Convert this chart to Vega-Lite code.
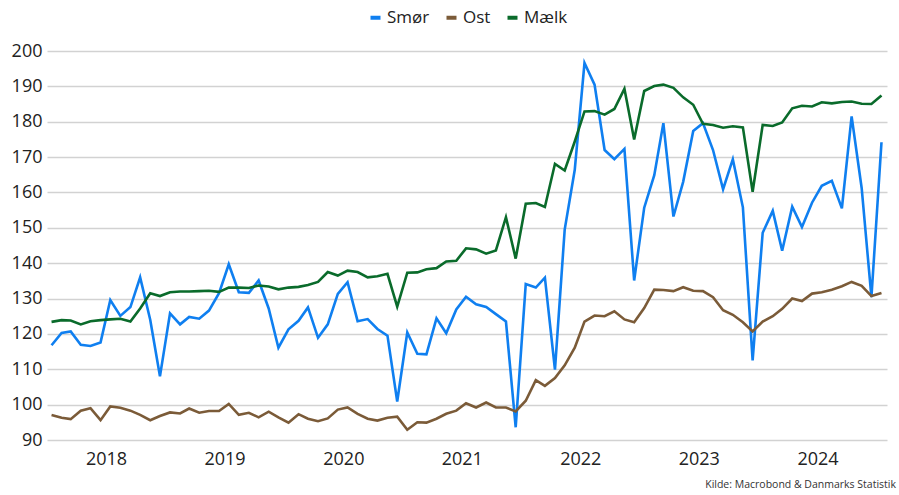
{
  "$schema": "https://vega.github.io/schema/vega-lite/v6.json",
  "width": 840,
  "height": 389,
  "autosize": {"type": "none"},
  "padding": {"left": 47, "top": 51, "right": 12, "bottom": 55},
  "background": "white",
  "config": {
    "view": {"stroke": null},
    "font": "Open Sans",
    "axis": {"labelFont": "Open Sans", "labelColor": "#222222"},
    "legend": {"labelFont": "Open Sans"}
  },
  "title": {
    "text": "Kilde: Macrobond & Danmarks Statistik",
    "orient": "bottom",
    "anchor": "end",
    "fontSize": 10.5,
    "fontWeight": "normal",
    "color": "#333333",
    "offset": 12,
    "dx": 9
  },
  "data": {
    "values": [
      {"d": "2018-01-15", "Smør": 116.8, "Ost": 97.1, "Mælk": 123.4},
      {"d": "2018-02-15", "Smør": 120.3, "Ost": 96.3, "Mælk": 123.9},
      {"d": "2018-03-15", "Smør": 120.7, "Ost": 95.9, "Mælk": 123.8},
      {"d": "2018-04-15", "Smør": 116.9, "Ost": 98.3, "Mælk": 122.7},
      {"d": "2018-05-15", "Smør": 116.6, "Ost": 99.0, "Mælk": 123.6},
      {"d": "2018-06-15", "Smør": 117.6, "Ost": 95.6, "Mælk": 123.9},
      {"d": "2018-07-15", "Smør": 129.6, "Ost": 99.5, "Mælk": 124.1},
      {"d": "2018-08-15", "Smør": 125.1, "Ost": 99.1, "Mælk": 124.3},
      {"d": "2018-09-15", "Smør": 127.6, "Ost": 98.3, "Mælk": 123.5},
      {"d": "2018-10-15", "Smør": 136.0, "Ost": 97.1, "Mælk": 127.2},
      {"d": "2018-11-15", "Smør": 124.0, "Ost": 95.6, "Mælk": 131.5},
      {"d": "2018-12-15", "Smør": 108.0, "Ost": 96.8, "Mælk": 130.7},
      {"d": "2019-01-15", "Smør": 125.8, "Ost": 97.8, "Mælk": 131.8},
      {"d": "2019-02-15", "Smør": 122.7, "Ost": 97.5, "Mælk": 132.0},
      {"d": "2019-03-15", "Smør": 124.8, "Ost": 98.9, "Mælk": 132.0},
      {"d": "2019-04-15", "Smør": 124.3, "Ost": 97.7, "Mælk": 132.1},
      {"d": "2019-05-15", "Smør": 126.6, "Ost": 98.2, "Mælk": 132.2},
      {"d": "2019-06-15", "Smør": 131.5, "Ost": 98.2, "Mælk": 131.9},
      {"d": "2019-07-15", "Smør": 139.7, "Ost": 100.2, "Mælk": 133.1},
      {"d": "2019-08-15", "Smør": 131.8, "Ost": 97.1, "Mælk": 133.1},
      {"d": "2019-09-15", "Smør": 131.6, "Ost": 97.7, "Mælk": 133.0},
      {"d": "2019-10-15", "Smør": 135.1, "Ost": 96.4, "Mælk": 133.7},
      {"d": "2019-11-15", "Smør": 127.2, "Ost": 98.0, "Mælk": 133.4},
      {"d": "2019-12-15", "Smør": 116.1, "Ost": 96.4, "Mælk": 132.6},
      {"d": "2020-01-15", "Smør": 121.3, "Ost": 94.9, "Mælk": 133.1},
      {"d": "2020-02-15", "Smør": 123.7, "Ost": 97.3, "Mælk": 133.3},
      {"d": "2020-03-15", "Smør": 127.5, "Ost": 96.0, "Mælk": 133.8},
      {"d": "2020-04-15", "Smør": 118.9, "Ost": 95.3, "Mælk": 134.7},
      {"d": "2020-05-15", "Smør": 122.7, "Ost": 96.1, "Mælk": 137.5},
      {"d": "2020-06-15", "Smør": 131.3, "Ost": 98.6, "Mælk": 136.5},
      {"d": "2020-07-15", "Smør": 134.6, "Ost": 99.2, "Mælk": 137.9},
      {"d": "2020-08-15", "Smør": 123.6, "Ost": 97.4, "Mælk": 137.5},
      {"d": "2020-09-15", "Smør": 124.2, "Ost": 96.0, "Mælk": 136.0},
      {"d": "2020-10-15", "Smør": 121.4, "Ost": 95.5, "Mælk": 136.3},
      {"d": "2020-11-15", "Smør": 119.5, "Ost": 96.3, "Mælk": 137.0},
      {"d": "2020-12-15", "Smør": 100.9, "Ost": 96.6, "Mælk": 127.7},
      {"d": "2021-01-15", "Smør": 120.4, "Ost": 92.9, "Mælk": 137.3},
      {"d": "2021-02-15", "Smør": 114.4, "Ost": 95.0, "Mælk": 137.4},
      {"d": "2021-03-15", "Smør": 114.2, "Ost": 94.9, "Mælk": 138.3},
      {"d": "2021-04-15", "Smør": 124.4, "Ost": 96.0, "Mælk": 138.6},
      {"d": "2021-05-15", "Smør": 120.2, "Ost": 97.4, "Mælk": 140.5},
      {"d": "2021-06-15", "Smør": 126.9, "Ost": 98.3, "Mælk": 140.7},
      {"d": "2021-07-15", "Smør": 130.5, "Ost": 100.4, "Mælk": 144.2},
      {"d": "2021-08-15", "Smør": 128.4, "Ost": 99.2, "Mælk": 143.9},
      {"d": "2021-09-15", "Smør": 127.6, "Ost": 100.6, "Mælk": 142.7},
      {"d": "2021-10-15", "Smør": 125.6, "Ost": 99.2, "Mælk": 143.6},
      {"d": "2021-11-15", "Smør": 123.5, "Ost": 99.2, "Mælk": 153.0},
      {"d": "2021-12-15", "Smør": 93.6, "Ost": 98.1, "Mælk": 141.3},
      {"d": "2022-01-15", "Smør": 134.1, "Ost": 101.1, "Mælk": 156.8},
      {"d": "2022-02-15", "Smør": 133.1, "Ost": 106.9, "Mælk": 157.0},
      {"d": "2022-03-15", "Smør": 135.9, "Ost": 105.3, "Mælk": 155.9},
      {"d": "2022-04-15", "Smør": 109.9, "Ost": 107.5, "Mælk": 168.1},
      {"d": "2022-05-15", "Smør": 149.5, "Ost": 111.1, "Mælk": 166.2},
      {"d": "2022-06-15", "Smør": 166.4, "Ost": 116.1, "Mælk": 174.4},
      {"d": "2022-07-15", "Smør": 196.6, "Ost": 123.5, "Mælk": 182.9},
      {"d": "2022-08-15", "Smør": 190.5, "Ost": 125.2, "Mælk": 183.0},
      {"d": "2022-09-15", "Smør": 172.0, "Ost": 125.0, "Mælk": 182.0},
      {"d": "2022-10-15", "Smør": 169.4, "Ost": 126.4, "Mælk": 183.6},
      {"d": "2022-11-15", "Smør": 172.3, "Ost": 124.1, "Mælk": 189.3},
      {"d": "2022-12-15", "Smør": 135.1, "Ost": 123.3, "Mælk": 175.0},
      {"d": "2023-01-15", "Smør": 155.7, "Ost": 127.3, "Mælk": 188.7},
      {"d": "2023-02-15", "Smør": 164.9, "Ost": 132.5, "Mælk": 190.1},
      {"d": "2023-03-15", "Smør": 179.6, "Ost": 132.4, "Mælk": 190.5},
      {"d": "2023-04-15", "Smør": 153.2, "Ost": 132.1, "Mælk": 189.6},
      {"d": "2023-05-15", "Smør": 163.0, "Ost": 133.2, "Mælk": 186.9},
      {"d": "2023-06-15", "Smør": 177.4, "Ost": 132.2, "Mælk": 184.8},
      {"d": "2023-07-15", "Smør": 179.6, "Ost": 132.1, "Mælk": 179.4},
      {"d": "2023-08-15", "Smør": 172.0, "Ost": 130.4, "Mælk": 179.1},
      {"d": "2023-09-15", "Smør": 160.9, "Ost": 126.7, "Mælk": 178.3},
      {"d": "2023-10-15", "Smør": 169.4, "Ost": 125.4, "Mælk": 178.7},
      {"d": "2023-11-15", "Smør": 155.8, "Ost": 123.3, "Mælk": 178.4},
      {"d": "2023-12-15", "Smør": 112.5, "Ost": 120.7, "Mælk": 160.2},
      {"d": "2024-01-15", "Smør": 148.6, "Ost": 123.5, "Mælk": 179.1},
      {"d": "2024-02-15", "Smør": 154.8, "Ost": 125.0, "Mælk": 178.8},
      {"d": "2024-03-15", "Smør": 143.5, "Ost": 127.1, "Mælk": 179.8},
      {"d": "2024-04-15", "Smør": 156.0, "Ost": 130.0, "Mælk": 183.8},
      {"d": "2024-05-15", "Smør": 150.2, "Ost": 129.3, "Mælk": 184.5},
      {"d": "2024-06-15", "Smør": 157.1, "Ost": 131.4, "Mælk": 184.3},
      {"d": "2024-07-15", "Smør": 161.9, "Ost": 131.8, "Mælk": 185.5},
      {"d": "2024-08-15", "Smør": 163.3, "Ost": 132.5, "Mælk": 185.2},
      {"d": "2024-09-15", "Smør": 155.5, "Ost": 133.5, "Mælk": 185.6},
      {"d": "2024-10-15", "Smør": 181.5, "Ost": 134.7, "Mælk": 185.7},
      {"d": "2024-11-15", "Smør": 161.2, "Ost": 133.6, "Mælk": 185.1},
      {"d": "2024-12-15", "Smør": 130.4, "Ost": 130.7, "Mælk": 185.0},
      {"d": "2025-01-15", "Smør": 174.2, "Ost": 131.6, "Mælk": 187.4}
    ]
  },
  "transform": [{"fold": ["Smør", "Ost", "Mælk"], "as": ["serie", "vaerdi"]}],
  "mark": {"type": "line", "strokeWidth": 2.6},
  "encoding": {
    "x": {
      "field": "d",
      "type": "temporal",
      "scale": {
        "type": "utc",
        "domain": [
          {"year": 2018, "month": 1, "date": 1, "utc": true},
          {"year": 2025, "month": 2, "date": 1, "utc": true}
        ]
      },
      "axis": {
        "title": null,
        "values": [
          {"year": 2018, "month": 7, "date": 2, "utc": true},
          {"year": 2019, "month": 7, "date": 2, "utc": true},
          {"year": 2020, "month": 7, "date": 2, "utc": true},
          {"year": 2021, "month": 7, "date": 2, "utc": true},
          {"year": 2022, "month": 7, "date": 2, "utc": true},
          {"year": 2023, "month": 7, "date": 2, "utc": true},
          {"year": 2024, "month": 7, "date": 2, "utc": true}
        ],
        "format": "%Y",
        "ticks": false,
        "domain": false,
        "grid": false,
        "labelFontSize": 18,
        "labelPadding": 10,
        "labelFlush": false
      }
    },
    "y": {
      "field": "vaerdi",
      "type": "quantitative",
      "scale": {"domain": [90, 200], "nice": false, "zero": false},
      "axis": {
        "title": null,
        "values": [90, 100, 110, 120, 130, 140, 150, 160, 170, 180, 190, 200],
        "ticks": false,
        "domain": false,
        "grid": true,
        "gridColor": "#d2d2d2",
        "gridWidth": 1.3,
        "labelFontSize": 18,
        "labelPadding": 5
      }
    },
    "color": {
      "field": "serie",
      "type": "nominal",
      "sort": ["Smør", "Ost", "Mælk"],
      "scale": {"domain": ["Smør", "Ost", "Mælk"], "range": ["#0f7ff0", "#7b5b38", "#0a6b2b"]},
      "legend": {
        "title": null,
        "orient": "none",
        "legendX": 320,
        "legendY": -42,
        "direction": "horizontal",
        "symbolType": "stroke",
        "symbolStrokeWidth": 4,
        "symbolSize": 100,
        "labelFontSize": 17,
        "labelColor": "#222222",
        "labelOffset": 3,
        "columnPadding": 8
      }
    }
  }
}
